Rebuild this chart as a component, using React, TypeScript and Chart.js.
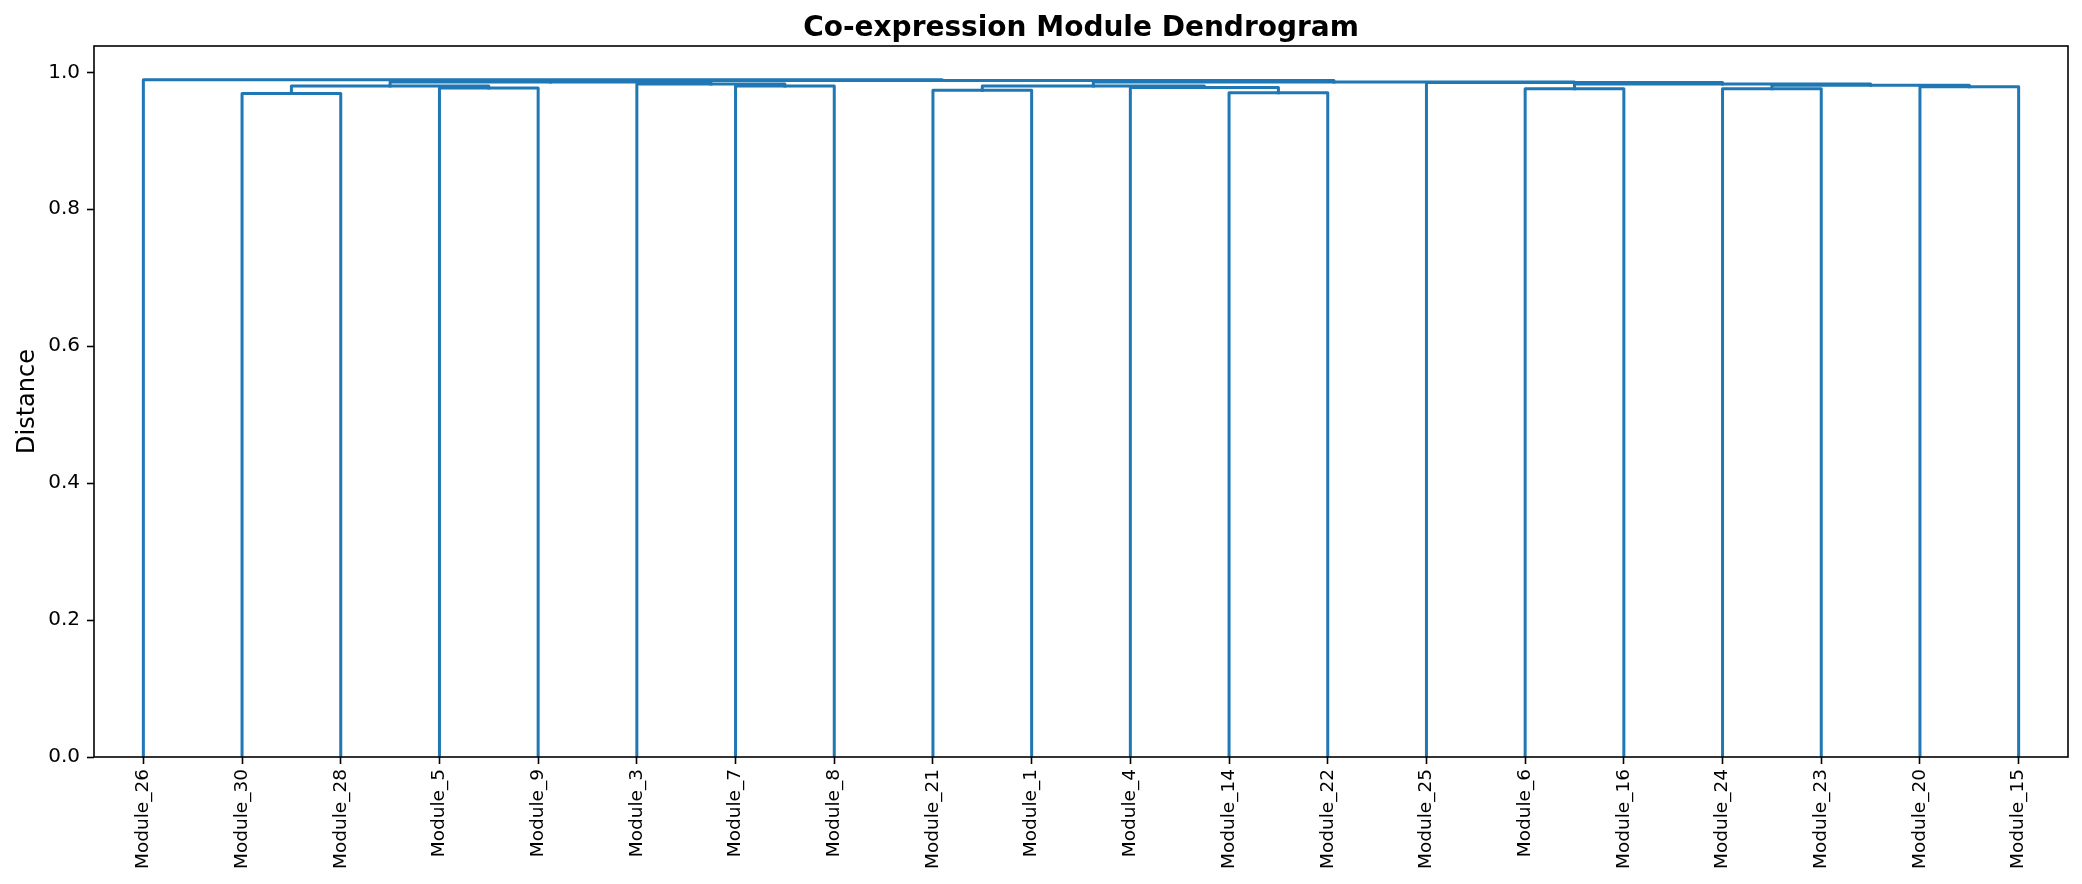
import React, { useEffect, useRef } from "react";
import { Chart, registerables } from "chart.js";

Chart.register(...registerables);

// Leaves in dendrogram display order
const leafNames = [
  "Module_26", "Module_30", "Module_28", "Module_5", "Module_9",
  "Module_3", "Module_7", "Module_8", "Module_21", "Module_1",
  "Module_4", "Module_14", "Module_22", "Module_25", "Module_6",
  "Module_16", "Module_24", "Module_23", "Module_20", "Module_15",
];

// Merges: ids < 20 are leaves (display order), id 20+k is the k-th merge
const mergeLeft = [1, 3, 20, 6, 5, 22, 8, 11, 10, 26, 14, 16, 18, 31, 30, 13, 29, 25, 0];
const mergeRight = [2, 4, 21, 7, 23, 24, 9, 12, 27, 28, 15, 17, 19, 32, 33, 34, 35, 36, 37];
const mergeHeight = [
  0.969, 0.977, 0.98, 0.98, 0.983, 0.986, 0.974, 0.97, 0.978, 0.98,
  0.976, 0.976, 0.979, 0.981, 0.983, 0.985, 0.986, 0.988, 0.989,
];

const yTicks = [0.0, 0.2, 0.4, 0.6, 0.8, 1.0];

const TITLE = "Co-expression Module Dendrogram";
const Y_LABEL = "Distance";
const LINE_COLOR = "#1f77b4";
const FONT = "'DejaVu Sans', sans-serif";

export default function App() {
  const canvasRef = useRef<HTMLCanvasElement | null>(null);

  useEffect(() => {
    document.body.style.margin = "0";
    const canvas = canvasRef.current;
    if (!canvas) return;

    const n = leafNames.length;
    const leafX = leafNames.map((_, i) => 5 + 10 * i);
    const posX: number[] = [...leafX];
    const posH: number[] = leafNames.map(() => 0);
    const datasets: any[] = [];
    mergeLeft.forEach((l, k) => {
      const r = mergeRight[k];
      const h = mergeHeight[k];
      const xl = posX[l];
      const xr = posX[r];
      datasets.push({
        data: [
          { x: xl, y: posH[l] },
          { x: xl, y: h },
          { x: xr, y: h },
          { x: xr, y: posH[r] },
        ],
        showLine: true,
        borderColor: LINE_COLOR,
        backgroundColor: LINE_COLOR,
        borderWidth: 3,
        pointRadius: 0,
        pointHoverRadius: 0,
        borderJoinStyle: "round",
        borderCapStyle: "square",
      });
      posX[n + k] = (xl + xr) / 2;
      posH[n + k] = h;
    });
    const yMax = Math.max(...mergeHeight) * 1.05;

    const frame = {
      id: "frame",
      afterDraw(chart: any) {
        const { ctx, chartArea } = chart;
        ctx.save();
        ctx.strokeStyle = "#000";
        ctx.lineWidth = 1.6;
        ctx.strokeRect(
          chartArea.left,
          chartArea.top,
          chartArea.right - chartArea.left,
          chartArea.bottom - chartArea.top
        );
        ctx.fillStyle = "#000";
        ctx.font = `bold 28px ${FONT}`;
        ctx.textAlign = "center";
        ctx.textBaseline = "alphabetic";
        ctx.fillText(TITLE, (chartArea.left + chartArea.right) / 2, 36);
        ctx.font = `24px ${FONT}`;
        ctx.translate(28, (chartArea.top + chartArea.bottom) / 2);
        ctx.rotate(-Math.PI / 2);
        ctx.textBaseline = "middle";
        ctx.fillText(Y_LABEL, 0, 0);
        ctx.restore();
      },
    };

    const chart = new Chart(canvas, {
      type: "scatter",
      data: { datasets },
      options: {
        animation: false,
        responsive: false,
        events: [],
        layout: { padding: { top: 46, right: 14, left: 0, bottom: 0 } },
        plugins: {
          legend: { display: false },
          tooltip: { enabled: false },
          title: { display: false },
        },
        scales: {
          x: {
            type: "linear",
            min: 0,
            max: 10 * n,
            afterBuildTicks: (scale: any) => {
              scale.ticks = leafX.map((v) => ({ value: v }));
            },
            afterFit: (scale: any) => {
              scale.height = 127;
            },
            border: { display: false },
            grid: {
              display: true,
              drawOnChartArea: false,
              drawTicks: true,
              tickLength: 7,
              tickWidth: 1.6,
              tickColor: "#000",
              color: "#000",
            },
            ticks: {
              autoSkip: false,
              minRotation: 90,
              maxRotation: 90,
              padding: 5,
              color: "#000",
              font: { family: FONT, size: 18.5 },
              callback: (v: any) => leafNames[Math.round((Number(v) - 5) / 10)] ?? "",
            },
          },
          y: {
            type: "linear",
            min: 0,
            max: yMax,
            afterBuildTicks: (scale: any) => {
              scale.ticks = yTicks.map((v) => ({ value: v }));
            },
            afterFit: (scale: any) => {
              scale.width = 94;
            },
            border: { display: false },
            grid: {
              display: true,
              drawOnChartArea: false,
              drawTicks: true,
              tickLength: 7,
              tickWidth: 1.6,
              tickColor: "#000",
              color: "#000",
            },
            ticks: {
              padding: 7,
              color: "#000",
              font: { family: FONT, size: 20 },
              callback: (v: any) => Number(v).toFixed(1),
            },
          },
        },
      },
      plugins: [frame],
    });

    return () => chart.destroy();
  }, []);

  return (
    <div style={{ width: 2082, height: 884, background: "#fff" }}>
      <canvas ref={canvasRef} width={2082} height={884} style={{ display: "block" }} />
    </div>
  );
}
